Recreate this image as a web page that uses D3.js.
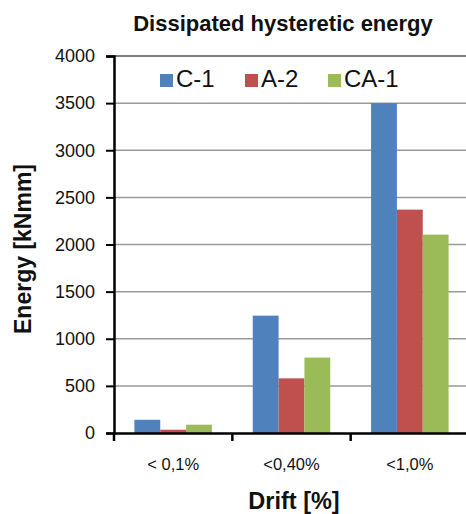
<!DOCTYPE html>
<html>
<head>
<meta charset="utf-8">
<script src="https://cdn.jsdelivr.net/npm/d3@7"></script>
<style>
  body { margin: 0; background: #fff; }
  svg { display: block; font-family: "Liberation Sans", Arial, sans-serif; }
</style>
</head>
<body>
<svg id="chart"></svg>
<script>
// 데이터
var categories = ["< 0,1%", "<0,40%", "<1,0%"];
var seriesNames = ["C-1", "A-2", "CA-1"];
var seriesColors = ["#4F81BD", "#C0504D", "#9BBB59"];
var valuesC1 = [140, 1245, 3500];
var valuesA2 = [35, 580, 2370];
var valuesCA1 = [88, 800, 2105];
var yTicks = [0, 500, 1000, 1500, 2000, 2500, 3000, 3500, 4000];

var width = 466;
var height = 514;
var margin = { top: 56, right: -3, bottom: 81, left: 114 };

var svg = d3.select("#chart")
    .attr("width", width)
    .attr("height", height);

var allValues = [valuesC1, valuesA2, valuesCA1];
var data = categories.map(function(c, i) {
    return {
        category: c,
        values: seriesNames.map(function(s, j) { return { name: s, value: allValues[j][i] }; })
    };
});

var x0 = d3.scaleBand()
    .domain(categories)
    .range([margin.left, width - margin.right])
    .padding(0);

var x1 = d3.scaleBand()
    .domain(seriesNames)
    .range([0, x0.bandwidth()])
    .paddingInner(0)
    .paddingOuter(0.79);

var y = d3.scaleLinear()
    .domain([0, 4000])
    .range([height - margin.bottom, margin.top]);

var color = d3.scaleOrdinal(seriesNames, seriesColors);

// 그리드 라인
svg.append("g")
    .selectAll("line")
    .data(yTicks.filter(function(t) { return t > 0; }))
    .enter().append("line")
    .attr("x1", margin.left)
    .attr("x2", width)
    .attr("y1", function(d) { return y(d); })
    .attr("y2", function(d) { return y(d); })
    .style("stroke", function(d) { return d === 4000 ? "#555" : "#9a9a9a"; })
    .style("stroke-width", 1.5);

// 막대
svg.append("g")
    .selectAll("g")
    .data(data)
    .enter().append("g")
    .attr("transform", function(d) { return "translate(" + x0(d.category) + ",0)"; })
    .selectAll("rect")
    .data(function(d) { return d.values; })
    .enter().append("rect")
    .attr("x", function(d) { return x1(d.name); })
    .attr("width", x1.bandwidth())
    .attr("y", function(d) { return y(d.value); })
    .attr("height", function(d) { return y(0) - y(d.value); })
    .style("fill", function(d) { return color(d.name); });

// y축
var yAxis = svg.append("g")
    .attr("transform", "translate(" + margin.left + ",0)")
    .call(d3.axisLeft(y).tickValues(yTicks).tickFormat(d3.format("d")).tickSize(8).tickPadding(11));
yAxis.select(".domain").style("stroke", "#000").style("stroke-width", 2.5);
yAxis.selectAll(".tick line").style("stroke", "#000").style("stroke-width", 2);
yAxis.selectAll("text")
    .style("font-size", "18px")
    .style("fill", "#111")
    .style("font-family", "'Liberation Sans', Arial, sans-serif");

// x축
var xAxis = svg.append("g")
    .attr("transform", "translate(0," + y(0) + ")")
    .call(d3.axisBottom(x0).tickSize(0).tickPadding(25));
xAxis.select(".domain").style("stroke", "#000").style("stroke-width", 2.5);
xAxis.selectAll("text")
    .style("font-size", "16.5px")
    .style("fill", "#111")
    .style("font-family", "'Liberation Sans', Arial, sans-serif");

// x축 구분 눈금
svg.append("g")
    .selectAll("line")
    .data(categories)
    .enter().append("line")
    .attr("x1", function(d) { return x0(d); })
    .attr("x2", function(d) { return x0(d); })
    .attr("y1", y(0))
    .attr("y2", y(0) + 8)
    .style("stroke", "#000")
    .style("stroke-width", 2.5);

// 제목
svg.append("text")
    .attr("x", 283)
    .attr("y", 31)
    .attr("text-anchor", "middle")
    .style("font-size", "22px")
    .style("font-weight", "bold")
    .style("fill", "#111")
    .text("Dissipated hysteretic energy");

// y축 제목
svg.append("text")
    .attr("transform", "translate(31,249) rotate(-90)")
    .attr("text-anchor", "middle")
    .style("font-size", "23px")
    .style("font-weight", "bold")
    .style("fill", "#111")
    .text("Energy [kNmm]");

// x축 제목
svg.append("text")
    .attr("x", 294)
    .attr("y", 509)
    .attr("text-anchor", "middle")
    .style("font-size", "23.5px")
    .style("font-weight", "bold")
    .style("fill", "#111")
    .text("Drift [%]");

// 범례
var legendX = [160, 245, 328];
var legend = svg.append("g")
    .selectAll("g")
    .data(seriesNames)
    .enter().append("g")
    .attr("transform", function(d, i) { return "translate(" + legendX[i] + ",74)"; });

legend.append("rect")
    .attr("width", 13)
    .attr("height", 13)
    .style("fill", function(d) { return color(d); });

legend.append("text")
    .attr("x", 16)
    .attr("y", 13)
    .style("font-size", "24px")
    .style("fill", "#111")
    .text(function(d) { return d; });
</script>
</body>
</html>
